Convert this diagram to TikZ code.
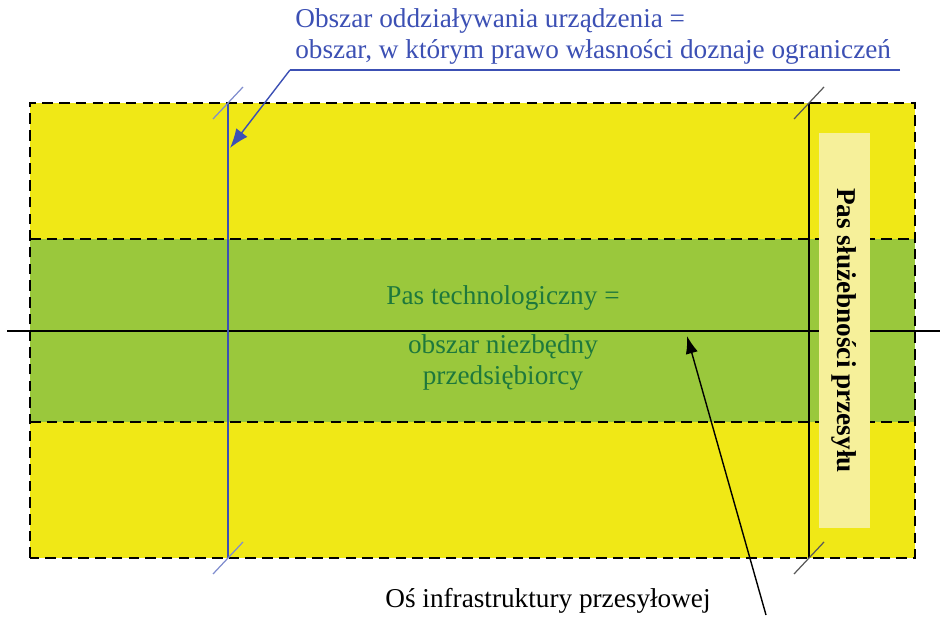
\documentclass[tikz,border=0pt]{standalone}
\usepackage{fontspec}
\setmainfont{Liberation Serif}
\usetikzlibrary{arrows.meta}

\definecolor{zolty}{RGB}{240,232,22}
\definecolor{zielony}{RGB}{154,200,60}
\definecolor{jasnyzolty}{RGB}{246,240,154}
\definecolor{ciemnozielony}{RGB}{30,120,60}
\definecolor{niebieski}{RGB}{60,80,180}

\tikzset{
  granica/.style={black,line width=1.1pt,dash pattern=on 6pt off 3.5pt},
  kreska/.style={line width=0.7pt},
  opis/.style={font=\fontsize{15.5}{18}\selectfont,inner sep=0pt},
}

\begin{document}
\begin{tikzpicture}
        \useasboundingbox (0,0) rectangle (18.8,12.36);
        % pasy
        \fill[zolty] (0.6,1.2) rectangle (18.3,10.3);
        \fill[zielony] (0.6,3.92) rectangle (18.3,7.58);
        \draw[granica] (0.6,1.2) rectangle (18.3,10.3);
        \draw[granica] (0.6,3.92) -- (18.3,3.92);
        \draw[granica] (0.6,7.58) -- (18.3,7.58);
        % os infrastruktury
        \draw[line width=1.1pt] (0.14,5.74) -- (18.8,5.74);
        % granice obszaru
        \draw[niebieski,line width=0.8pt] (4.56,1.2) -- (4.56,10.3);
        \draw[line width=1.1pt] (16.18,1.2) -- (16.18,10.3);
        \foreach \x/\kol in {4.56/niebieski,16.18/black}
            \foreach \y in {1.2,10.3}
                \draw[kreska,\kol!65] (\x-0.3,\y-0.32) -- (\x+0.3,\y+0.32);
        % pas sluzebnosci
        \node[fill=jasnyzolty,rotate=-90,minimum width=7.9cm,minimum height=1.02cm,
              opis,font=\fontsize{15.5}{18}\selectfont\bfseries] (sluzebnosc) at (16.89,5.75) {Pas służebności przesyłu};
        % opisy
        \node[opis,niebieski,align=left,anchor=north west] (obszar) at (5.9,12.2)
            {Obszar oddziaływania urządzenia =\\obszar, w którym prawo własności doznaje ograniczeń};
        \node[opis,ciemnozielony] (technologiczny) at (10.06,6.40) {Pas technologiczny =};
        \node[opis,ciemnozielony,align=center] (niezbedny) at (10.06,5.11) {obszar niezbędny\\przedsiębiorcy};
        \node[opis] (osopis) at (10.96,0.34) {Oś infrastruktury przesyłowej};
        % strzalki
        \coordinate (podkreslenie) at (5.8,10.96);
        \coordinate (koniec) at (18.0,10.96);
        \coordinate (grot) at (4.6,9.4);
        \draw[niebieski,thick] (koniec) -- (podkreslenie);
        \draw[niebieski,thick,-{Latex[length=11pt,width=8pt]}] (podkreslenie) -- (grot);
        \coordinate (ogon) at (15.32,0.06);
        \coordinate (osgrot) at (13.74,5.64);
        \draw[thick,-{Latex[length=10pt,width=7pt]}] (ogon) -- (osgrot);
    \end{tikzpicture}
\end{document}
